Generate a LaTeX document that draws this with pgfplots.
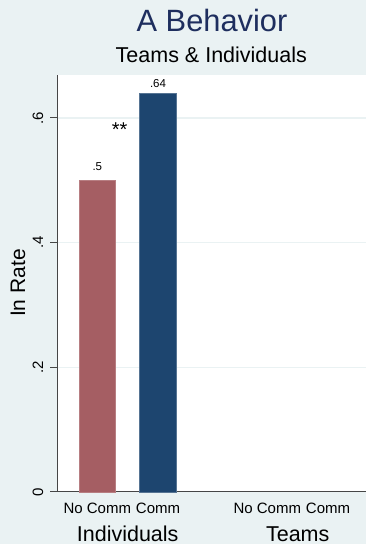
\documentclass[border=0pt]{standalone}
\usepackage{fontspec}
\setmainfont{Liberation Sans}
\usepackage{pgfplots}
\pgfplotsset{compat=1.18}
\definecolor{bgblue}{RGB}{234,242,243}
\definecolor{titlenavy}{RGB}{30,46,94}
\definecolor{barred}{RGB}{165,94,99}
\definecolor{barblue}{RGB}{29,69,111}
\definecolor{axisgray}{RGB}{70,70,70}
\newcommand{\fs}[1]{\fontsize{#1bp}{#1bp}\selectfont}

\begin{document}
\begin{tikzpicture}[x=1bp,y=1bp]
\fill[bgblue] (0,0) rectangle (366,544);
\useasboundingbox (0,0) rectangle (366,544);
\fill[white] (57,52) rectangle (366,469);
\begin{axis}[
  at={(57bp,52bp)}, anchor=south west,
  scale only axis, width=309bp, height=417bp,
  xmin=57, xmax=366, ymin=0, ymax=0.669,
  axis x line=bottom, axis y line=left,
  axis line style={-, draw=axisgray, line width=1bp},
  xtick={97.3,158,267.3,328},
  xticklabels={No Comm,Comm,No Comm,Comm},
  x tick style={draw=none},
  xticklabel style={anchor=base, inner sep=0pt, yshift=-14bp, font=\fs{15}},
  ytick={0,0.2,0.4,0.6},
  yticklabels={0,.2,.4,.6},
  y tick style={draw=axisgray, line width=1bp},
  major tick length=7bp, tick align=outside,
  yticklabel style={xshift=-7bp, rotate=90, anchor=base, inner sep=0pt, font=\fs{15}},
  ymajorgrids, grid style={draw=bgblue, line width=1.3bp},
  clip=false,
]
% Individuals, no communication
\addplot[ybar, bar width=36.5, bar shift=0pt, fill=barred, draw=barred!80!white, line width=0.7bp,
  nodes near coords, point meta=explicit symbolic,
  nodes near coords align={anchor=base},
  every node near coord/.append style={anchor=base, inner sep=0pt, yshift=9.4bp, font=\fs{11.5}, text=black}]
  coordinates {(97.3,0.5) [.5]};
% Individuals, communication
\addplot[ybar, bar width=36.5, bar shift=0pt, fill=barblue, draw=barblue!75!white, line width=0.7bp,
  nodes near coords, point meta=explicit symbolic,
  nodes near coords align={anchor=base},
  every node near coord/.append style={anchor=base, inner sep=0pt, yshift=5.8bp, font=\fs{11.5}, text=black}]
  coordinates {(158,0.64) [.64]};
% significance marker
\node[anchor=base, inner sep=0pt, font=\fs{20}] at (axis cs:119.7,0.571) {**};
\end{axis}
\node[anchor=base, inner sep=0pt, text=titlenavy, font=\fs{30.8}] at (212,512.3) {A Behavior};
\node[anchor=base, inner sep=0pt, font=\fs{21.5}] at (211.3,481.3) {Teams \& Individuals};
\node[anchor=base, inner sep=0pt, rotate=90, font=\fs{21}] at (25,261) {In Rate};
\node[anchor=base, inner sep=0pt, font=\fs{21.5}] at (127.7,2.5) {Individuals};
\node[anchor=base, inner sep=0pt, font=\fs{21.5}] at (297.7,2.5) {Teams};
\end{tikzpicture}
\end{document}
